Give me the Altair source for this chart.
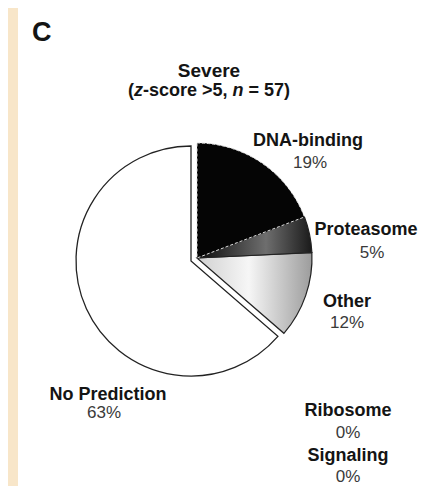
import altair as alt
import pandas as pd

categories = ["DNA-binding", "Proteasome", "Other", "No Prediction", "Ribosome", "Signaling"]
percents = [19, 5, 12, 63, 0, 0]
order = [0, 1, 2, 3, 4, 5]
title_line1 = "Severe"
panel_letter = "C"

df = pd.DataFrame({"cat": categories, "pct": percents, "order": order})
df["label"] = [f"{p}%" for p in percents]
total = sum(percents)

W, H = 411, 478
CX, CY, R = 189, 250, 115
FONT = "Liberation Sans"

base = alt.Chart(df).transform_window(
    cum="sum(pct)", sort=[alt.SortField("order")], frame=[None, 0]
).transform_calculate(start="datum.cum - datum.pct")

theta_scale = alt.Scale(domain=[0, total], range=[0, 6.283185307179586])


def slice_layer(cat, **mark):
    return base.transform_filter(alt.datum.cat == cat).mark_arc(
        outerRadius=R, **mark
    ).encode(
        theta=alt.Theta("start:Q", scale=theta_scale),
        theta2="cum:Q",
        x=alt.value(CX),
        y=alt.value(CY),
    )


grad_prot = alt.LinearGradient(
    gradient="linear", x1=0, y1=0, x2=1, y2=0,
    stops=[alt.GradientStop(color="#0a0a0a", offset=0),
           alt.GradientStop(color="#6e6e6e", offset=0.6),
           alt.GradientStop(color="#1a1a1a", offset=1)],
)
grad_other = alt.LinearGradient(
    gradient="linear", x1=0, y1=0, x2=1, y2=0,
    stops=[alt.GradientStop(color="#d0d0d0", offset=0),
           alt.GradientStop(color="#f6f6f6", offset=0.45),
           alt.GradientStop(color="#9c9c9c", offset=1)],
)

np_slice = slice_layer("No Prediction", fill="white", stroke="#222", strokeWidth=1.3,
                       xOffset=-6, yOffset=3)
other_slice = slice_layer("Other", fill=grad_other, stroke="#222", strokeWidth=1.2)
prot_slice = slice_layer("Proteasome", fill=grad_prot, stroke="#222", strokeWidth=1.2)
dna_slice = slice_layer("DNA-binding", fill="#050505", stroke="#dddddd", strokeWidth=1,
                        strokeDash=[3, 2])

strip = alt.Chart(pd.DataFrame({"a": [0]})).mark_rect(color="#f8e6c9").encode(
    x=alt.value(0), x2=alt.value(10), y=alt.value(0), y2=alt.value(H)
)

# label positions (layout only)
label_pos = {
    "DNA-binding": (300, 138, 302, 160),
    "Proteasome": (358, 227, 364, 250),
    "Other": (339, 299, 339, 320),
    "No Prediction": (100, 392, 96, 410),
    "Ribosome": (340, 408, 340, 430),
    "Signaling": (340, 453, 340, 474),
}

text_layers = []
for cat, (lx, ly, px, py) in label_pos.items():
    sub = alt.Chart(df).transform_filter(alt.datum.cat == cat)
    text_layers.append(sub.mark_text(font=FONT, fontSize=18, fontWeight="bold",
                                     color="#141414", align="center",
                                     baseline="alphabetic").encode(
        text="cat:N", x=alt.value(lx), y=alt.value(ly)))
    text_layers.append(sub.mark_text(font=FONT, fontSize=17, color="#3a3a3a",
                                     align="center", baseline="alphabetic").encode(
        text="label:N", x=alt.value(px), y=alt.value(py)))


def static_text(txt, x, y, size, weight="bold", style="normal", align="left"):
    return alt.Chart(pd.DataFrame({"t": [txt]})).mark_text(
        font=FONT, fontSize=size, fontWeight=weight, fontStyle=style,
        color="#141414", align=align, baseline="alphabetic"
    ).encode(text="t:N", x=alt.value(x), y=alt.value(y))


n_total = 57
title_segments = [
    ("(", "normal", 120),
    ("z", "italic", 126),
    ("-score >5,", "normal", 135),
    ("n", "italic", 224.5),
    (f"= {n_total})", "normal", 240.5),
]
title_layers = [static_text(panel_letter, 24, 33, 27),
                static_text(title_line1, 201, 69, 19, align="center")]
for t, st, x in title_segments:
    title_layers.append(static_text(t, x, 88, 18, style=st))

chart = alt.layer(
    strip, np_slice, other_slice, prot_slice, dna_slice, *title_layers, *text_layers
).properties(
    width=W, height=H, padding=0, background="white",
    autosize=alt.AutoSizeParams(type="none"),
).configure_view(stroke=None)

chart.save("out.html", embed_options={"renderer": "svg", "actions": False})
